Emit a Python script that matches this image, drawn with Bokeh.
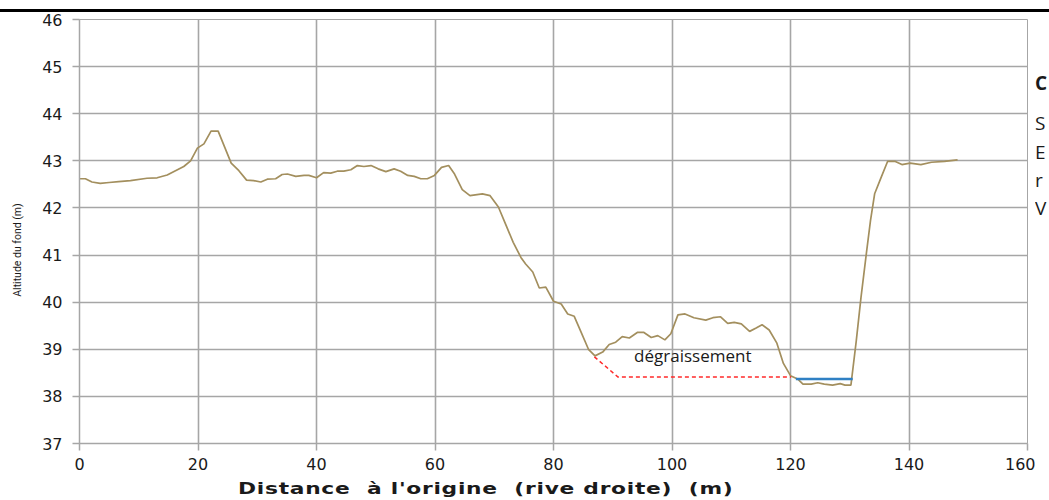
from bokeh.plotting import figure
from bokeh.models import Label, Div, FixedTicker, Range1d, Spacer
from bokeh.layouts import column, row
from bokeh.embed import file_html
from bokeh.resources import INLINE

# Profile of the river bed (distance from right bank, bed altitude)
profile_x = [0, 1, 2.1, 3.5, 5, 6.6, 8.6, 11.4, 13.1, 14.8, 16.2, 17.6, 18.75, 19.9, 21, 22.2,
             23.4, 24.5, 25.6, 26.9, 28.2, 29.4, 30.6, 31.7, 33.1, 34.2, 35.1, 36.5, 37.9, 38.7,
             40.0, 41.2, 42.4, 43.5, 44.6, 45.8, 46.9, 48.0, 49.2, 50.4, 51.7, 53.1, 54.2, 55.4,
             56.5, 57.6, 58.7, 59.9, 61.1, 62.3, 63.3, 64.6, 65.9, 68.0, 69.3, 70.7, 72.0, 73.2,
             74.5, 75.3, 76.5, 77.6, 78.7, 80.0, 81.3, 82.4, 83.5, 84.6, 85.9, 87.0, 88.3, 89.4,
             90.5, 91.6, 92.8, 94.2, 95.2, 96.5, 97.6, 98.8, 99.8, 101.0, 102.2, 103.7, 105.7,
             106.9, 108.2, 109.4, 110.5, 111.7, 113.1, 114.2, 115.2, 116.4, 117.7, 118.8, 120.0,
             121.2, 122.1, 123.5, 124.6, 125.7, 127.1, 128.4, 129.2, 130.2, 131.1, 131.9, 132.8,
             133.5, 134.2, 135.3, 136.4, 137.6, 138.8, 140.2, 142.0, 143.8, 146.0, 148.2]
profile_z = [42.62, 42.62, 42.55, 42.52, 42.54, 42.56, 42.58, 42.63, 42.64, 42.70, 42.79, 42.88,
             43.00, 43.27, 43.36, 43.63, 43.63, 43.29, 42.95, 42.79, 42.59, 42.58, 42.55, 42.61,
             42.62, 42.71, 42.72, 42.67, 42.69, 42.69, 42.64, 42.75, 42.74, 42.78, 42.78, 42.81,
             42.90, 42.88, 42.90, 42.83, 42.77, 42.83, 42.78, 42.69, 42.67, 42.62, 42.62, 42.69,
             42.86, 42.90, 42.72, 42.39, 42.26, 42.30, 42.26, 42.02, 41.63, 41.27, 40.95, 40.81,
             40.64, 40.30, 40.32, 40.02, 39.96, 39.75, 39.70, 39.38, 39.00, 38.86, 38.94, 39.10,
             39.15, 39.27, 39.24, 39.36, 39.36, 39.25, 39.29, 39.20, 39.33, 39.73, 39.75, 39.67,
             39.62, 39.67, 39.69, 39.55, 39.57, 39.54, 39.38, 39.45, 39.52, 39.41, 39.13, 38.70,
             38.44, 38.37, 38.26, 38.26, 38.29, 38.26, 38.24, 38.27, 38.24, 38.24, 39.18, 40.10,
             41.03, 41.73, 42.30, 42.65, 42.99, 42.99, 42.92, 42.95, 42.92, 42.97, 42.99, 43.02]

# Water level
water_x = [120.9, 130.5]
water_z = [38.37, 38.37]

# Proposed cut ("dégraissement")
cut_x = [86.9, 90.9, 120.1]
cut_z = [38.84, 38.41, 38.41]

x_ticks = [0, 20, 40, 60, 80, 100, 120, 140, 160]
y_ticks = [37, 38, 39, 40, 41, 42, 43, 44, 45, 46]

annotation_text = "dégraissement"
x_label = "Distance  à l'origine  (rive droite)  (m)"
y_label = "Altitude du fond (m)"
side_letters = ["C", "S", "E", "r", "V"]

assert len(profile_x) == len(profile_z)

grid_color = "#a6a6a6"
text_color = "#1a1a1a"

PLOT_H = 466

p = figure(width=1005, height=PLOT_H, output_backend="svg", toolbar_location=None,
           x_range=Range1d(0, 160), y_range=Range1d(37, 46),
           min_border_left=49, min_border_right=8, min_border_top=7, min_border_bottom=35)
p.outline_line_color = grid_color
p.outline_line_width = 1
p.background_fill_color = "white"
p.border_fill_color = "white"

for ax in (p.xaxis, p.yaxis):
    ax.axis_line_color = grid_color
    ax.axis_line_width = 1.5
    ax.major_tick_line_color = grid_color
    ax.major_tick_line_width = 1.5
    ax.major_tick_out = 7
    ax.major_tick_in = 0
    ax.minor_tick_line_color = None
    ax.major_label_text_font = "DejaVu Sans"
    ax.major_label_text_font_size = "16px"
    ax.major_label_text_color = text_color

p.xaxis.ticker = FixedTicker(ticks=x_ticks)
p.yaxis.ticker = FixedTicker(ticks=y_ticks)
p.xaxis.major_label_standoff = 7
p.yaxis.major_label_standoff = 10

p.xgrid.ticker = FixedTicker(ticks=x_ticks)
p.ygrid.ticker = FixedTicker(ticks=y_ticks)
for g in (p.xgrid, p.ygrid):
    g.grid_line_color = grid_color
    g.grid_line_width = 1.6

p.line(profile_x, profile_z, line_color="#a38f5e", line_width=1.7)
p.line(water_x, water_z, line_color="#2f80c4", line_width=2.5)
p.line(cut_x, cut_z, line_color="#ff2a2a", line_width=1.5, line_dash="4 3")

p.add_layout(Label(x=93.6, y=38.87, text=annotation_text, text_font="Open Sans",
                   text_font_size="17px", text_color=text_color,
                   text_align="left", text_baseline="middle"))

# Y axis title (rotated), in a narrow column left of the plot
y_html = ('<div style="position:relative;width:30px;height:%dpx;">'
          '<div style="position:absolute;left:17px;top:238px;transform:translate(-50%%,-50%%) rotate(-90deg);'
          'white-space:nowrap;font-family:Roboto;font-size:10.5px;color:#1a1a1a;">%s</div></div>'
          % (PLOT_H, y_label))
y_div = Div(text=y_html, width=30, height=PLOT_H, styles={"margin": "0", "padding": "0"})

# Partially visible side text on the right of the chart
tops = [62, 102, 131, 159, 187]
spans = []
for i, (t, top) in enumerate(zip(side_letters, tops)):
    weight = "bold" if i == 0 else "normal"
    spans.append(f'<span style="position:absolute;top:{top}px;left:0px;font-weight:{weight}">{t}</span>')
side_html = ('<div style="position:relative;width:14px;height:%dpx;font-family:\'Open Sans\';'
             'font-size:19px;line-height:19px;color:#1a1a1a">' % PLOT_H + "".join(spans) + '</div>')
side = Div(text=side_html, width=14, height=PLOT_H,
           styles={"margin": "0", "padding": "0", "overflow": "hidden"})

# X axis title, placed as in the reference (not centred on the frame), horizontally widened
x_html = ('<div style="position:relative;width:1049px;height:22px;">'
          '<div style="position:absolute;left:238px;top:0px;white-space:pre;font-family:\'DejaVu Sans\';'
          'font-weight:bold;font-size:15px;line-height:22px;letter-spacing:0.5px;color:#1a1a1a;'
          'transform:scaleX(1.45);transform-origin:0 50%%;">%s</div></div>' % x_label)
x_div = Div(text=x_html, width=1049, height=22, styles={"margin": "0", "padding": "0"})

top_space = Spacer(width=1049, height=9)
top_rule = Div(text="", width=1049, height=3,
               styles={"background-color": "black", "margin": "0", "padding": "0"})

layout = column(top_space, top_rule, row(y_div, p, side, spacing=0), x_div, spacing=0)

open("out.html", "w").write(file_html(layout, INLINE))
